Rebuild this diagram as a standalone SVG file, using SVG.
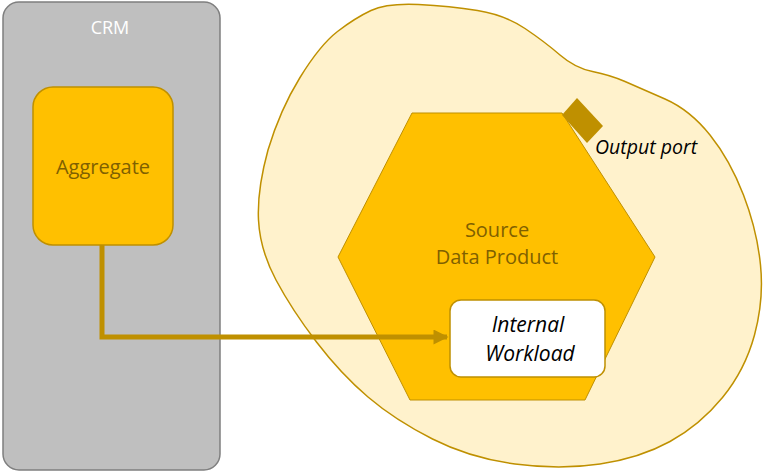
<svg xmlns="http://www.w3.org/2000/svg" width="768" height="474" viewBox="0 0 768 474">
<defs>
<style>
.lbl{font-family:"Open Sans","Liberation Sans",sans-serif;text-anchor:middle}
.dark{fill:#7f6000}
.it{font-style:italic;fill:#000}
</style>
<marker id="ah" viewBox="0 0 10 10" refX="9" refY="5" markerWidth="3.2" markerHeight="3" orient="auto" markerUnits="strokeWidth">
<path d="M0,0 L10,5 L0,10 Z" fill="#bf9000"/>
</marker>
</defs>
<rect width="768" height="474" fill="#fff"/>
<g id="crm">
<rect x="3" y="2" width="217" height="468" rx="16" fill="#bfbfbf" stroke="#7f7f7f" stroke-width="1.5"/>
<text class="lbl" x="110" y="34" font-size="18" fill="#fff">CRM</text>
</g>
<g id="aggregate">
<rect x="33" y="87" width="140" height="158" rx="20" fill="#ffc000" stroke="#bf9000" stroke-width="1.5"/>
<text class="lbl dark" x="103" y="174" font-size="20">Aggregate</text>
</g>
<g id="domain">
<path d="M371,10.5 Q387,3 418.5,4.5 Q450,6 477.5,10.5 Q505,15 525,28.5 Q545,42 560,55 Q575,68 592.5,71.5 Q610,75 625,81.5 Q640,88 665,99 Q690,110 710,135 Q730,160 743.5,195 Q757,230 760.5,265 Q764,300 754.5,335 Q745,370 722.5,397.5 Q700,425 670,441.5 Q640,458 600,464 Q560,470 515,464 Q470,458 432.5,439 Q395,420 368,397 Q341,374 316.5,342 Q292,310 276,280 Q260,250 258.5,220 Q257,190 268,150 Q280,110 300,77.5 Q320,45 337.5,31.5 Q355,18 371,10.5 Z" fill="#fff2cc" stroke="#bf9000" stroke-width="1.5"/>
</g>
<g id="source-data-product">
<polygon points="412,113 562,113 655,257 585,400 410,400 338,257" fill="#ffc000" stroke="#bf9000" stroke-width="1"/>
<text class="lbl dark" x="497" y="237" font-size="20">Source</text>
<text class="lbl dark" x="497" y="264" font-size="20">Data Product</text>
</g>
<g id="output-port">
<polygon points="577,98 603,126 587,143 562,115" fill="#bf9000"/>
<text x="595" y="154" font-family="'Open Sans','Liberation Sans',sans-serif" font-size="19.5" font-style="italic" fill="#000">Output port</text>
</g>
<g id="internal-workload">
<rect x="450" y="300" width="155" height="77" rx="11" fill="#fff" stroke="#bf9000" stroke-width="1.5"/>
<text class="lbl it" x="528" y="332" font-size="21">Internal</text>
<text class="lbl it" x="530" y="361" font-size="21">Workload</text>
</g>
<g id="connectors">
<path d="M102,245 V337 H447" fill="none" stroke="#bf9000" stroke-width="5" marker-end="url(#ah)"/>
</g>
</svg>
